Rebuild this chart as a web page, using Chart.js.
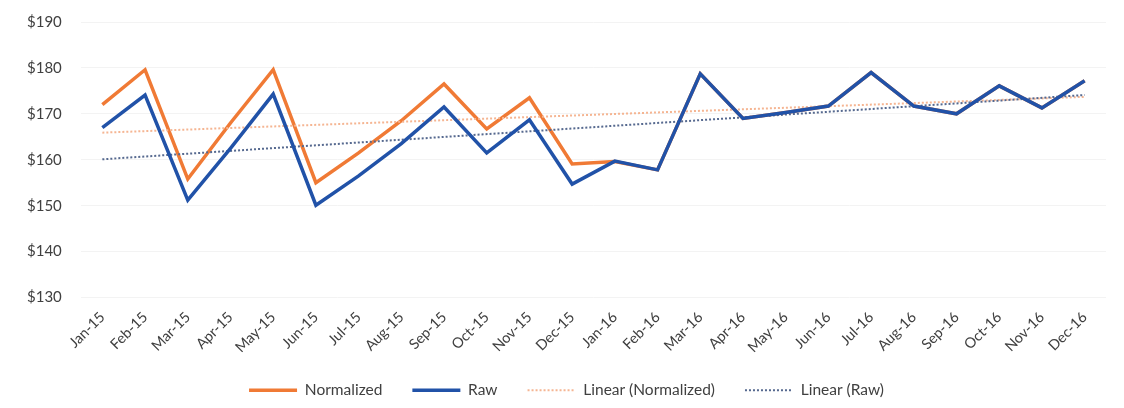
<!DOCTYPE html>
<html>
<head>
<meta charset="utf-8">
<script src="https://cdn.jsdelivr.net/npm/chart.js@4/dist/chart.umd.min.js"></script>
<style>
  html, body { margin: 0; padding: 0; background: #fff; }
  #wrap { width: 1124px; height: 408px; position: relative; }
</style>
</head>
<body>
<div id="wrap"><canvas id="chart"></canvas></div>
<script>
var months = ["Jan-15", "Feb-15", "Mar-15", "Apr-15", "May-15", "Jun-15", "Jul-15", "Aug-15",
  "Sep-15", "Oct-15", "Nov-15", "Dec-15", "Jan-16", "Feb-16", "Mar-16", "Apr-16",
  "May-16", "Jun-16", "Jul-16", "Aug-16", "Sep-16", "Oct-16", "Nov-16", "Dec-16"];

// normalized prices (same as raw from Jan-16 on)
var normalized = [172, 179.6, 155.8, 168, 179.6, 155, 161.5, 168.5,
  176.5, 166.7, 173.5, 159.1, 159.6, 157.8, 178.7, 169,
  170.3, 171.7, 179, 171.7, 170, 176.1, 171.3, 177.2];

var raw = [167, 174.1, 151.2, 162.5, 174.3, 150.1, 156.5, 163.5,
  171.5, 161.5, 168.7, 154.7, 159.7, 157.8, 178.7, 169,
  170.3, 171.7, 179, 171.7, 170, 176.1, 171.3, 177.2];

// trendline end points (first month, last month)
var trendNormalized = [165.9, 173.7];
var trendRaw = [160.1, 174.1];

var yTicks = [130, 140, 150, 160, 170, 180, 190];

function trendSeries(ends) {
  var arr = new Array(months.length).fill(null);
  arr[0] = ends[0];
  arr[months.length - 1] = ends[1];
  return arr;
}

var fontFamily = "Lato, 'Open Sans', sans-serif";

new Chart(document.getElementById("chart"), {
  type: "line",
  data: {
    labels: months,
    datasets: [
      {
        label: "Normalized",
        data: normalized,
        borderColor: "#F07A35",
        backgroundColor: "#F07A35",
        borderWidth: 3.5,
        pointRadius: 0,
        pointStyle: "line",
        tension: 0,
        order: 3
      },
      {
        label: "Raw",
        data: raw,
        borderColor: "#2152A8",
        backgroundColor: "#2152A8",
        borderWidth: 3.5,
        pointRadius: 0,
        pointStyle: "line",
        tension: 0,
        order: 0
      },
      {
        label: "Linear (Normalized)",
        data: trendSeries(trendNormalized),
        borderColor: "#F5B592",
        backgroundColor: "#F5B592",
        borderWidth: 2,
        borderDash: [2, 2],
        pointRadius: 0,
        pointStyle: "line",
        spanGaps: true,
        order: 2
      },
      {
        label: "Linear (Raw)",
        data: trendSeries(trendRaw),
        borderColor: "#56698F",
        backgroundColor: "#56698F",
        borderWidth: 2,
        borderDash: [2, 2],
        pointRadius: 0,
        pointStyle: "line",
        spanGaps: true,
        order: 1
      }
    ]
  },
  options: {
    responsive: true,
    maintainAspectRatio: false,
    animation: false,
    layout: { padding: { top: 22, left: 27, right: 18, bottom: 0 } },
    plugins: {
      tooltip: { enabled: false },
      legend: {
        position: "bottom",
        labels: {
          usePointStyle: true,
          pointStyleWidth: 48,
          boxHeight: 6,
          padding: 30,
          color: "#404040",
          font: { family: fontFamily, size: 15.5 },
          sort: function (a, b) { return a.datasetIndex - b.datasetIndex; },
          generateLabels: function (chart) {
            var items = Chart.defaults.plugins.legend.labels.generateLabels(chart);
            // point styles drop the dash, so take it from the dataset
            items.forEach(function (it) {
              it.lineDash = chart.data.datasets[it.datasetIndex].borderDash || [];
            });
            return items;
          }
        }
      }
    },
    scales: {
      x: {
        offset: true,
        grid: { display: false },
        border: { display: false },
        ticks: {
          maxRotation: 45,
          minRotation: 45,
          autoSkip: false,
          color: "#404040",
          padding: 3,
          font: { family: fontFamily, size: 14.5 }
        },
        afterFit: function (s) { s.height = 55; }
      },
      y: {
        min: 130,
        max: 190,
        afterBuildTicks: function (s) {
          s.ticks = yTicks.map(function (v) { return { value: v }; });
        },
        grid: { color: "#F3F3F3", drawTicks: false },
        border: { display: false },
        ticks: {
          crossAlign: "far",
          padding: 8,
          color: "#404040",
          font: { family: fontFamily, size: 15 },
          callback: function (v) { return "$" + v; }
        },
        afterFit: function (s) { s.width = 54; }
      }
    }
  }
});
</script>
</body>
</html>
